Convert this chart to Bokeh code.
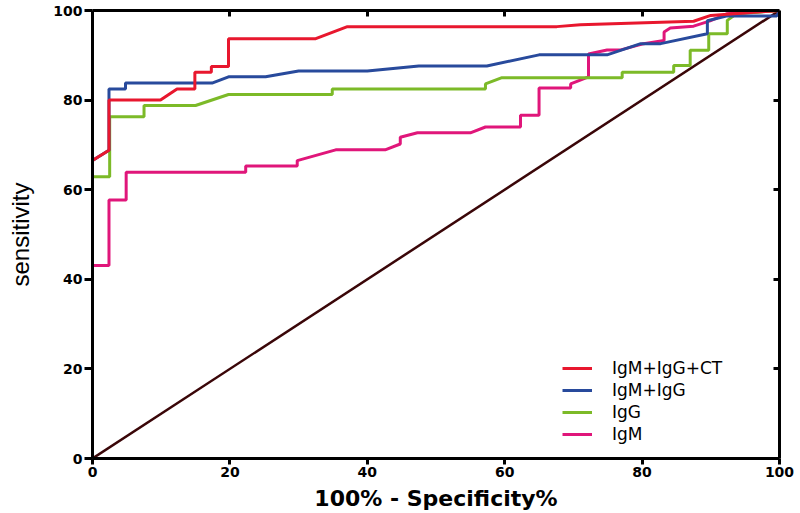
from bokeh.plotting import figure
from bokeh.models import LinearAxis, Range1d, FixedTicker, Legend, LegendItem
from bokeh.embed import file_html
from bokeh.resources import INLINE

# ---- data ----
x_ticks = [0, 20, 40, 60, 80, 100]
y_ticks = [0, 20, 40, 60, 80, 100]

ref_x = [0, 100]
ref_y = [0, 100]

cmb_x = [0, 0, 2.4, 2.4, 9.9, 12.3, 14.9, 14.9, 17.3, 17.3, 19.8, 19.8, 32.5, 37.1, 67.6, 71, 87.5, 90, 100]
cmb_y = [0, 66.5, 68.8, 80, 80, 82.5, 82.5, 86.2, 86.2, 87.5, 87.5, 93.7, 93.7, 96.4, 96.4, 96.8, 97.6, 98.9, 100]

mg_x = [0, 0, 2.4, 2.4, 4.8, 4.8, 17.4, 19.8, 25.2, 30, 40, 47.5, 57.4, 65, 74.9, 79.8, 82.7, 89.5, 89.5, 92.4, 99.6, 100]
mg_y = [0, 66.5, 68.8, 82.5, 82.5, 83.8, 83.8, 85.2, 85.2, 86.5, 86.5, 87.6, 87.6, 90.1, 90.1, 92.6, 92.6, 94.8, 97.7, 98.8, 98.8, 100]

igg_x = [0, 0, 2.5, 2.5, 7.5, 7.5, 15, 19.8, 34.9, 34.9, 57.2, 57.2, 59.6, 77.1, 77.1, 84.6, 84.6, 87, 87, 89.7, 89.7, 92.4, 92.4, 93.8, 100]
igg_y = [0, 62.9, 62.9, 76.3, 76.3, 78.8, 78.8, 81.25, 81.25, 82.5, 82.5, 83.6, 85, 85, 86.2, 86.2, 87.7, 87.7, 91.1, 91.1, 94.8, 94.8, 97.8, 99.3, 100]

igm_x = [0, 0, 2.4, 2.4, 4.9, 4.9, 22.3, 22.3, 29.8, 29.8, 35.4, 42.6, 44.8, 44.8, 47.3, 55, 57.2, 62.3, 62.3, 65, 65, 69.6, 69.6, 72.2, 72.2, 74.9, 76.9, 80, 83.2, 83.2, 84.1, 87.5, 89.9, 92.4, 100]
igm_y = [0, 43.1, 43.1, 57.7, 57.7, 63.9, 63.9, 65.3, 65.3, 66.5, 68.9, 68.9, 70.2, 71.7, 72.7, 72.7, 74, 74, 76.6, 76.6, 82.7, 82.7, 83.6, 85.2, 90.3, 91.2, 91.2, 92.5, 93.3, 95.2, 96.1, 96.5, 97.7, 99.3, 100]

labels = ["IgM+IgG+CT", "IgM+IgG", "IgG", "IgM"]
colors = ["#e8172e", "#284a9c", "#7cba28", "#e0167a"]

# ---- figure ----
p = figure(width=800, height=513, x_range=Range1d(0, 100), y_range=Range1d(0, 100),
           output_backend="svg", toolbar_location=None,
           min_border_left=92, min_border_right=21, min_border_top=10, min_border_bottom=55)
p.xgrid.visible = False
p.ygrid.visible = False
p.outline_line_color = None
p.background_fill_color = "white"
p.border_fill_color = "white"

TICK_FONT = "DejaVu Sans"

def style_axis(ax, ticks, tick_out, tick_in, show_labels):
    ax.ticker = FixedTicker(ticks=ticks)
    ax.axis_line_width = 3
    ax.axis_line_color = "black"
    ax.major_tick_line_width = 3
    ax.major_tick_line_color = "black"
    ax.major_tick_out = tick_out
    ax.major_tick_in = tick_in
    ax.minor_tick_line_color = None
    ax.major_label_text_font = TICK_FONT
    ax.major_label_text_font_style = "bold"
    ax.major_label_text_font_size = "14px"
    ax.major_label_text_color = "black"
    ax.axis_label_text_color = "black"
    if not show_labels:
        ax.major_label_overrides = {t: "" for t in ticks}
        ax.major_label_standoff = 0

xa = p.xaxis[0]
style_axis(xa, x_ticks, 6, 0, True)
xa.major_label_standoff = 2
xa.axis_label = "100% - Specificity%"
xa.axis_label_text_font = TICK_FONT
xa.axis_label_text_font_style = "bold"
xa.axis_label_text_font_size = "22px"
xa.axis_label_standoff = 6

ya = p.yaxis[0]
style_axis(ya, y_ticks, 8, 0, True)
ya.major_label_standoff = 2
ya.axis_label = "sensitivity"
ya.axis_label_text_font = "Liberation Sans"
ya.axis_label_text_font_style = "normal"
ya.axis_label_text_font_size = "24px"
ya.axis_label_standoff = 16

top = LinearAxis()
style_axis(top, x_ticks[1:-1], 0, 6, False)
p.add_layout(top, "above")
right = LinearAxis()
style_axis(right, y_ticks[1:-1], 0, 6, False)
p.add_layout(right, "right")

# ---- lines ----
p.line(ref_x, ref_y, line_color="#3a0608", line_width=2.5)
r_igm = p.line(igm_x, igm_y, line_color=colors[3], line_width=3)
r_igg = p.line(igg_x, igg_y, line_color=colors[2], line_width=3)
r_mg = p.line(mg_x, mg_y, line_color=colors[1], line_width=3)
r_cmb = p.line(cmb_x, cmb_y, line_color=colors[0], line_width=3)

legend = Legend(items=[LegendItem(label=labels[0], renderers=[r_cmb]),
                       LegendItem(label=labels[1], renderers=[r_mg]),
                       LegendItem(label=labels[2], renderers=[r_igg]),
                       LegendItem(label=labels[3], renderers=[r_igm])],
                location=(470, 14), margin=0, padding=0, spacing=2,
                glyph_width=30, glyph_height=20, label_height=20, label_standoff=20,
                label_text_font="DejaVu Sans", label_text_font_size="17px",
                label_text_color="black",
                border_line_color=None, background_fill_alpha=0)
p.add_layout(legend, "center")

open("out.html", "w").write(file_html(p, INLINE))
